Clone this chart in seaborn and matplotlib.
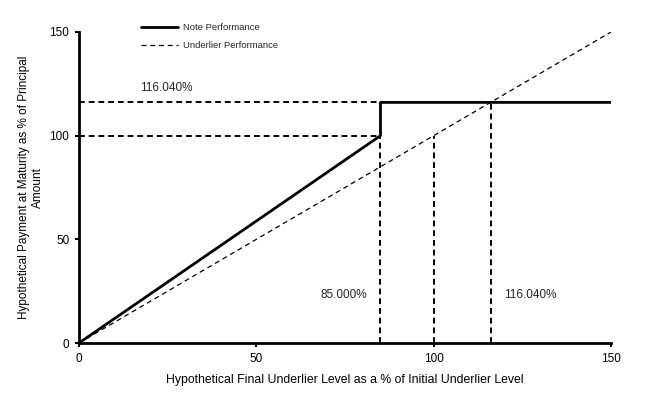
import matplotlib
matplotlib.use("Agg")
import matplotlib.pyplot as plt
import seaborn as sns
import pandas as pd

sns.set_theme(style="white")
plt.rcParams['font.family'] = ['Liberation Sans', 'DejaVu Sans']

# Data
note_x = [0, 85, 85, 150]
note_y = [0, 100, 116.04, 116.04]
under_x = [0, 150]
under_y = [0, 150]
cap_level = 116.04
barrier = 85
ann_labels = ["116.040%", "85.000%", "116.040%"]

note_df = pd.DataFrame({"x": note_x, "y": note_y})
under_df = pd.DataFrame({"x": under_x, "y": under_y})

fig = plt.figure(figsize=(6.49, 3.93), dpi=100)
ax = fig.add_axes([0.1217, 0.1272, 0.8198, 0.7914])

sns.lineplot(data=note_df, x="x", y="y", ax=ax, color="black", lw=2,
             sort=False, estimator=None, label="Note Performance")
sns.lineplot(data=under_df, x="x", y="y", ax=ax, color="black", lw=0.9,
             ls=(0, (4, 3)), sort=False, estimator=None, label="Underlier Performance")

dash = dict(color="black", lw=1.4, ls=(0, (3, 2)))
ax.plot([0, barrier], [cap_level, cap_level], **dash)
ax.plot([0, barrier], [100, 100], **dash)
ax.plot([barrier, barrier], [0, 100], **dash)
ax.plot([100, 100], [0, 100], **dash)
ax.plot([cap_level, cap_level], [0, cap_level], **dash)

ax.text(17.2, 121.5, ann_labels[0], fontsize=8.5)
ax.text(68, 21.5, ann_labels[1], fontsize=8.5)
ax.text(119.8, 21.5, ann_labels[2], fontsize=8.5)

ax.set_xlim(0, 150)
ax.set_ylim(0, 150)
ax.set_xticks([0, 50, 100, 150])
ax.set_yticks([0, 50, 100, 150])
ax.tick_params(axis="both", direction="out", length=3, width=1.5, labelsize=8.5,
               bottom=True, left=True, colors="black", pad=4)
for s in ["top", "right"]:
    ax.spines[s].set_visible(False)
for s in ["left", "bottom"]:
    ax.spines[s].set_color("black")
    ax.spines[s].set_linewidth(2)

ax.set_xlabel("Hypothetical Final Underlier Level as a % of Initial Underlier Level",
              fontsize=8.8, color="black", labelpad=7)
ax.set_ylabel("Hypothetical Payment at Maturity as % of Principal\nAmount",
              fontsize=8.5, color="black", labelpad=4)

leg = ax.legend(loc="upper left", bbox_to_anchor=(0.1, 1.055), frameon=False,
                fontsize=6.8, handlelength=4.0, labelspacing=0.9, handletextpad=0.5)

fig.savefig("out.png", dpi=100, facecolor="white")
